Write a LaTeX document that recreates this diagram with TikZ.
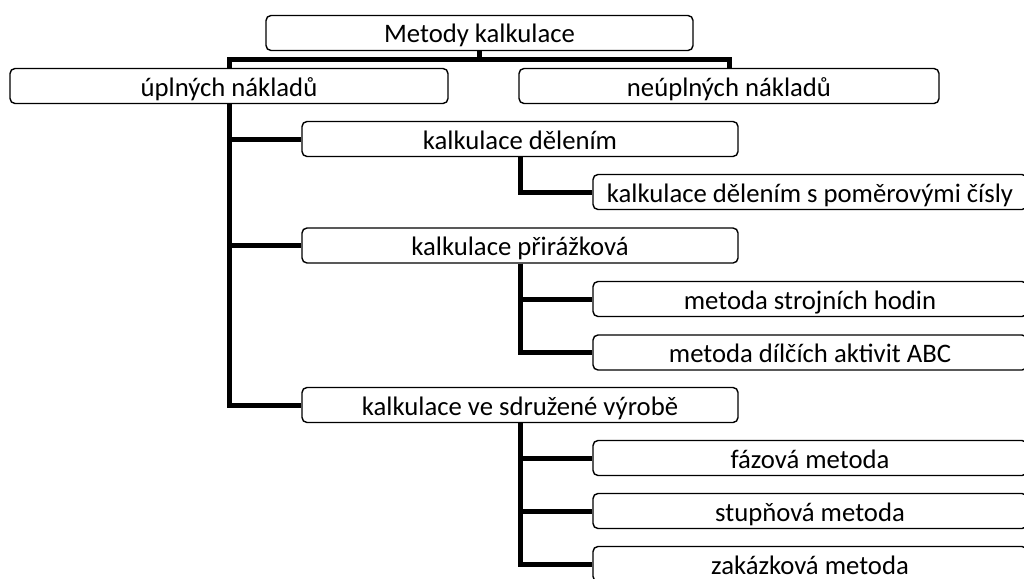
\documentclass[tikz,border=0pt]{standalone}
\usepackage{fontspec}
\setmainfont{Carlito}
\usetikzlibrary{positioning}
\tikzset{
        box/.style={draw, rounded corners=5pt, line width=1.4pt, minimum height=35pt, inner sep=0pt, text height=20pt, text depth=0pt, font=\fontsize{26.7}{30}\selectfont}, % every method box
        mid/.style={box, minimum width=436pt}, % middle column
        leaf/.style={box, minimum width=434pt}, % right column, runs off the page
        link/.style={line width=5pt, line join=miter}, % thick tree lines
}
\begin{document}
\begin{tikzpicture}[x=1pt,y=-1pt]
\useasboundingbox (0,0) rectangle (1024,578);
\node[box, minimum width=427pt] (top) at (479.5,33) {Metody kalkulace};
\node[box, minimum width=438pt] (upl) at (229,86) {úplných nákladů};
\node[box, minimum width=420pt] (neupl) at (729,86) {neúplných nákladů};

\foreach \n/\y/\t in {del/139/{kalkulace dělením},prir/245.5/{kalkulace přirážková},sdr/405/{kalkulace ve sdružené výrobě}}
  \node[mid] (\n) at (520,\y) {\t};

\foreach \n/\y/\t in {pom/192/{kalkulace dělením s poměrovými čísly},stroj/299/{metoda strojních hodin},abc/352.5/{metoda dílčích aktivit ABC},faz/458/{fázová metoda},stup/511/{stupňová metoda},zak/564/{zakázková metoda}}
  \node[leaf] (\n) at (810,\y) {\t};

\draw[link] (top.south) -- ++(0,8) -| (upl.north);
\draw[link] (top.south) -- ++(0,8) -| (neupl.north);
\foreach \n in {del,prir,sdr}
  \draw[link] (upl.south) |- (\n.west);
\draw[link] (del.south) |- (pom.west);
\foreach \n in {stroj,abc}
  \draw[link] (prir.south) |- (\n.west);
\foreach \n in {faz,stup,zak}
  \draw[link] (sdr.south) |- (\n.west);
\end{tikzpicture}
\end{document}
